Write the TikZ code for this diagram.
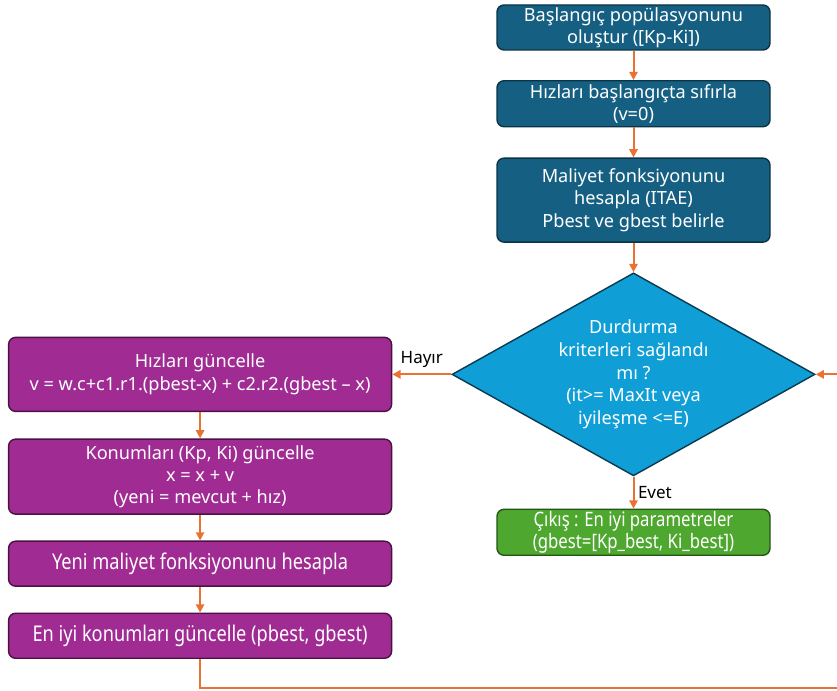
\documentclass[tikz,border=0pt]{standalone}
\usepackage{fontspec}
\setmainfont{Noto Sans}
\newfontfamily\narrowfont[FakeStretch=0.84]{Noto Sans}
\usetikzlibrary{arrows.meta,shapes.geometric,positioning}
\definecolor{stepblue}{HTML}{156082}
\definecolor{stepblueline}{HTML}{0B3346}
\definecolor{askblue}{HTML}{0F9ED5}
\definecolor{askline}{HTML}{0A3A52}
\definecolor{updpurple}{HTML}{A02B93}
\definecolor{updline}{HTML}{4A1244}
\definecolor{outgreen}{HTML}{4EA72E}
\definecolor{outline}{HTML}{265416}
\definecolor{flow}{HTML}{E97132}

\begin{document}
\begin{tikzpicture}[->,>={Triangle[length=7pt,width=7pt]},auto,node distance=0.9cm,
		line width=1.7pt,every edge/.style={draw=flow}]
	\tikzstyle{box}=[rectangle,rounded corners=6pt,line width=1.2pt,text=white,align=center,
		inner xsep=1pt,inner ysep=0pt,font=\fontsize{15.5}{19}\selectfont]
	\tikzstyle{initbox}=[box,fill=stepblue,draw=stepblueline,minimum width=8.19cm]
	\tikzstyle{updbox}=[box,fill=updpurple,draw=updline,minimum width=11.49cm]
	\tikzstyle{outbox}=[box,fill=outgreen,draw=outline,minimum width=8.19cm]
	\tikzstyle{narrow}=[font=\narrowfont\fontsize{18.5}{20}\selectfont]
	\tikzstyle{decision}=[diamond,shape aspect=1.79,minimum width=10.89cm,minimum height=6.09cm,
		inner sep=0pt,line width=1.2pt,fill=askblue,draw=askline,text=white,align=center,
		font=\fontsize{15.5}{19.5}\selectfont]

	\useasboundingbox (0,0) rectangle (25.11,20.73);

	\node[initbox,minimum height=1.35cm]	(A)	at (19.005,19.905)	{Başlangıç popülasyonunu\\oluştur ([Kp-Ki])};
	\node[initbox,minimum height=1.38cm]	(B)	[below=0.88cm of A]	{Hızları başlangıçta sıfırla\\(v=0)};
	\node[initbox,minimum height=2.52cm]	(C)	[below=0.9cm of B]	{Maliyet fonksiyonunu\\hesapla (ITAE)\\Pbest ve gbest belirle};
	\node[decision]				(Q)	[below=0.88cm of C]	{Durdurma\\kriterleri sağlandı\\mı ?\\(it>= MaxIt veya\\iyileşme <=E)};
	\node[outbox,narrow,font=\narrowfont\fontsize{17}{19.5}\selectfont,minimum height=1.38cm]	(OUT)	[below=0.96cm of Q]	{Çıkış : En iyi parametreler\\(gbest=[Kp\_best, Ki\_best])};
	\node[updbox,minimum height=2.22cm]	(V)	[left=1.77cm of Q]	{Hızları güncelle\\v = w.c+c1.r1.(pbest-x) + c2.r2.(gbest – x)};
	\node[updbox,minimum height=2.25cm]	(X)	[below=0.79cm of V]	{Konumları (Kp, Ki) güncelle\\x = x + v\\(yeni = mevcut + hız)};
	\node[updbox,narrow,minimum height=1.35cm]	(COST)	[below=0.77cm of X]	{Yeni maliyet fonksiyonunu hesapla};
	\node[updbox,narrow,minimum height=1.35cm]	(BEST)	[below=0.77cm of COST]	{En iyi konumları güncelle (pbest, gbest)};
	\coordinate (turn) at (25.4,0.09);

	\path[font=\fontsize{14.5}{16}\selectfont]
		(A)	edge					(B)
		(B)	edge					(C)
		(C)	edge					(Q)
		(Q)	edge			node[inner sep=3pt] {Evet}	(OUT)
		(Q)	edge			node[swap,inner sep=5pt] {Hayır}	(V)
		(V)	edge					(X)
		(X)	edge					(COST)
		(COST)	edge					(BEST);
	\draw[draw=flow] (BEST.south) |- (turn) |- (Q.east);
\end{tikzpicture}
\end{document}
